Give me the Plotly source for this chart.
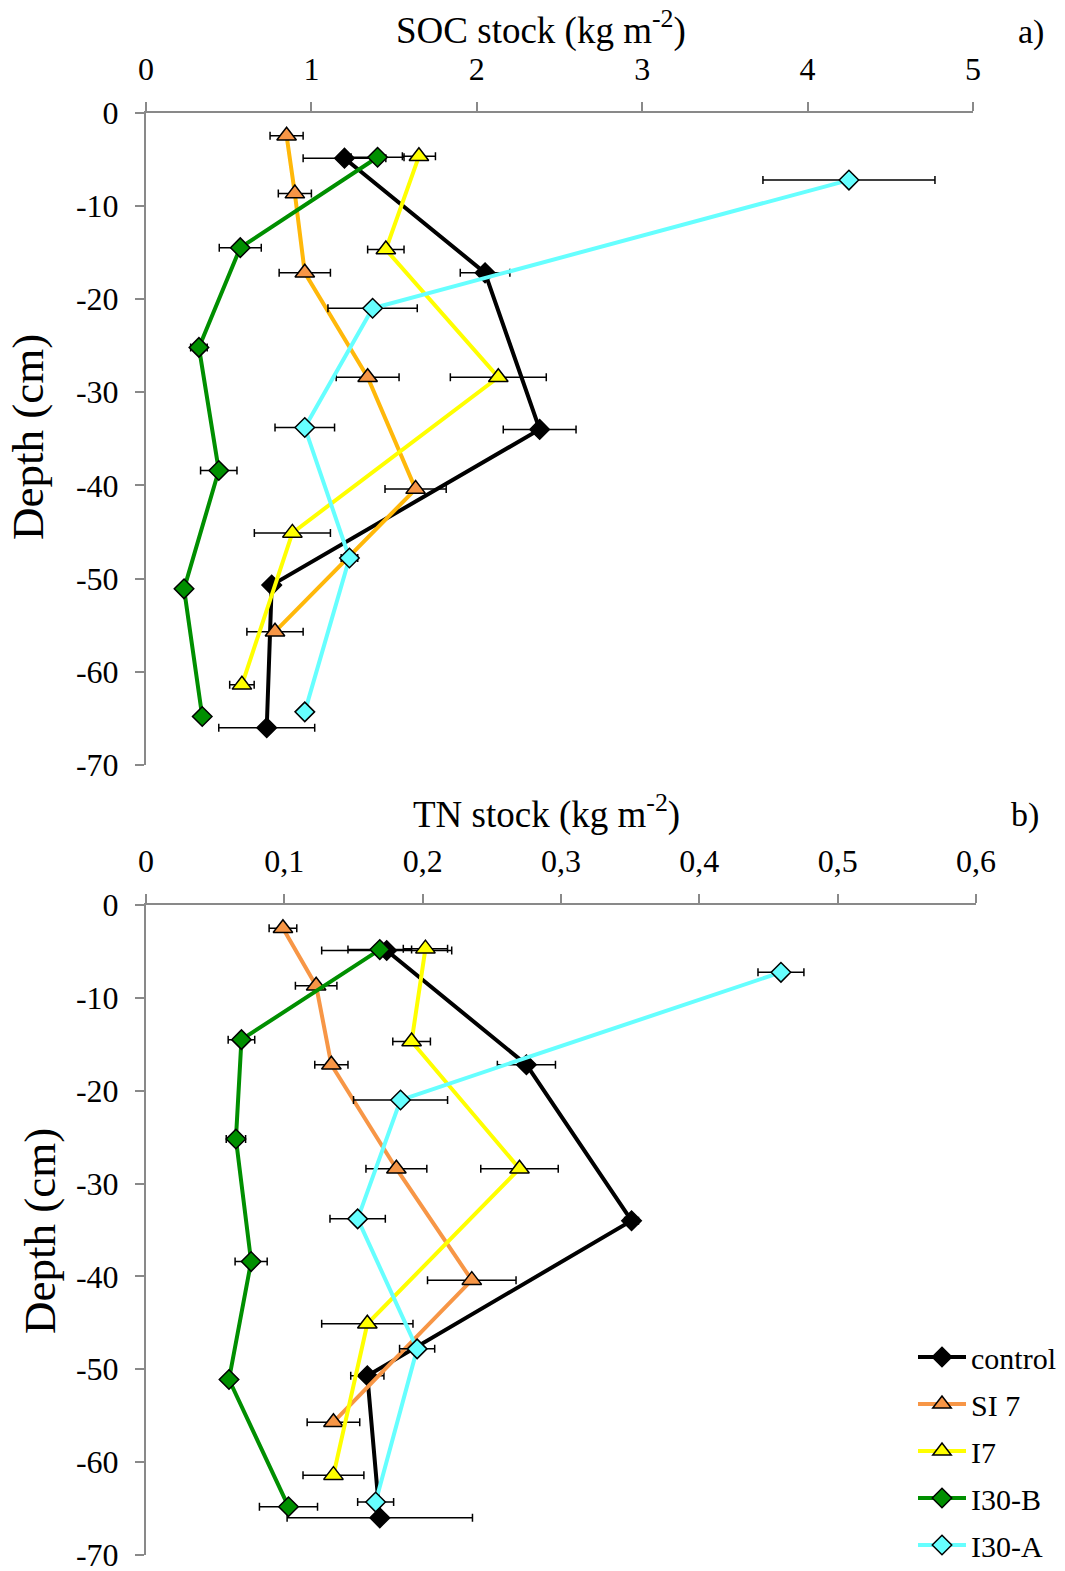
import plotly.graph_objects as go

# ---------------- data ----------------
series_names = ["control", "SI 7", "I7", "I30-B", "I30-A"]

depth_control = [-4.9, -17.2, -34.0, -50.7, -66.0]
depth_si7 = [-2.5, -8.7, -17.2, -28.4, -40.4, -55.7]
depth_i7 = [-4.7, -14.7, -28.4, -45.1, -61.4]
depth_i30b = [-4.8, -14.5, -25.2, -38.4, -51.1, -64.8]
depth_i30a = [-7.25, -21.0, -33.8, -47.8, -64.3]

soc_control = [1.20, 2.05, 2.38, 0.76, 0.73]
soc_control_err = [0.25, 0.15, 0.22, 0.03, 0.29]
soc_si7 = [0.85, 0.90, 0.96, 1.34, 1.63, 0.78]
soc_si7_err = [0.10, 0.10, 0.155, 0.19, 0.185, 0.17]
soc_i7 = [1.65, 1.45, 2.13, 0.885, 0.58]
soc_i7_err = [0.10, 0.11, 0.29, 0.23, 0.074]
soc_i30b = [1.40, 0.57, 0.32, 0.44, 0.23, 0.34]
soc_i30b_err = [0.16, 0.127, 0.05, 0.11, 0.0, 0.03]
soc_i30a = [4.25, 1.37, 0.96, 1.23, 0.96]
soc_i30a_err = [0.52, 0.27, 0.18, 0.05, 0.0]

tn_control = [0.174, 0.275, 0.351, 0.160, 0.169]
tn_control_err = [0.047, 0.021, 0.005, 0.012, 0.067]
tn_si7 = [0.099, 0.123, 0.134, 0.181, 0.2355, 0.1355]
tn_si7_err = [0.010, 0.015, 0.012, 0.022, 0.032, 0.019]
tn_i7 = [0.202, 0.192, 0.270, 0.160, 0.1355]
tn_i7_err = [0.016, 0.0136, 0.028, 0.033, 0.022]
tn_i30b = [0.169, 0.069, 0.065, 0.076, 0.060, 0.103]
tn_i30b_err = [0.023, 0.0096, 0.007, 0.0116, 0.0, 0.021]
tn_i30a = [0.459, 0.184, 0.153, 0.196, 0.166]
tn_i30a_err = [0.0166, 0.034, 0.020, 0.0127, 0.013]

depth_ticks = [0, -10, -20, -30, -40, -50, -60, -70]
depth_ticktext = ["0", "-10", "-20", "-30", "-40", "-50", "-60", "-70"]
soc_ticks = [0, 1, 2, 3, 4, 5]
soc_ticktext = ["0", "1", "2", "3", "4", "5"]
tn_ticks = [0, 0.1, 0.2, 0.3, 0.4, 0.5, 0.6]
tn_ticktext = ["0", "0,1", "0,2", "0,3", "0,4", "0,5", "0,6"]

# ---------------- styles ----------------
W, H = 1065, 1571
FONT = "Liberation Serif, Times New Roman, serif"
AX_COL = "#898989"

styles = {
    "control": dict(line="#000000", line_b="#000000", marker="#000000", symbol="diamond", size=15),
    "SI 7": dict(line="#FFB80A", line_b="#F79646", marker="#F79646", symbol="triangle-up", size=17),
    "I7": dict(line="#FFFF00", line_b="#FFFF00", marker="#FFFF00", symbol="triangle-up", size=17),
    "I30-B": dict(line="#008F00", line_b="#008F00", marker="#008F00", symbol="diamond", size=15),
    "I30-A": dict(line="#66FFFF", line_b="#66FFFF", marker="#66FFFF", symbol="diamond", size=15),
}

depths = [depth_control, depth_si7, depth_i7, depth_i30b, depth_i30a]
soc = [soc_control, soc_si7, soc_i7, soc_i30b, soc_i30a]
soc_err = [soc_control_err, soc_si7_err, soc_i7_err, soc_i30b_err, soc_i30a_err]
tn = [tn_control, tn_si7, tn_i7, tn_i30b, tn_i30a]
tn_err = [tn_control_err, tn_si7_err, tn_i7_err, tn_i30b_err, tn_i30a_err]

fig = go.Figure()

for name, d, x, e in zip(series_names, depths, soc, soc_err):
    s = styles[name]
    fig.add_trace(go.Scatter(
        x=x, y=d, mode="lines+markers", name=name, showlegend=False,
        xaxis="x", yaxis="y",
        line=dict(color=s["line"], width=4),
        marker=dict(symbol=s["symbol"], size=s["size"], color=s["marker"],
                    line=dict(color="#000000", width=1.5)),
        error_x=dict(type="data", array=e, visible=True, color="#000000",
                     thickness=1.5, width=4),
    ))

for name, d, x, e in zip(series_names, depths, tn, tn_err):
    s = styles[name]
    fig.add_trace(go.Scatter(
        x=x, y=d, mode="lines+markers", name=name, showlegend=True,
        legendgroup=name,
        xaxis="x2", yaxis="y2",
        line=dict(color=s["line_b"], width=4),
        marker=dict(symbol=s["symbol"], size=s["size"], color=s["marker"],
                    line=dict(color="#000000", width=1.5)),
        error_x=dict(type="data", array=e, visible=True, color="#000000",
                     thickness=1.5, width=4),
    ))

def px_x(p):
    return p / W

def px_y(p):
    return 1 - p / H

xdom1 = [px_x(146), px_x(973)]
ydom1 = [px_y(765), px_y(112.5)]
xdom2 = [px_x(146), px_x(976)]
ydom2 = [px_y(1555), px_y(905)]

tickfont = dict(family=FONT, size=32, color="#000000")

common_axis = dict(showline=True, linecolor=AX_COL, linewidth=2, ticks="outside",
                   tickcolor=AX_COL, tickwidth=2, ticklen=9, showgrid=False,
                   zeroline=False, tickfont=tickfont,
                   automargin=False, ticklabeloverflow="allow")

def ann(text, x, y, size, angle=0):
    return dict(text=text, x=px_x(x), y=px_y(y), xref="paper", yref="paper",
                xanchor="center", yanchor="middle", showarrow=False,
                textangle=angle, font=dict(family=FONT, size=size, color="#000000"))

fig.update_layout(
    template="none",
    width=W, height=H, autosize=False,
    margin=dict(l=0, r=0, t=0, b=0, pad=0),
    paper_bgcolor="white", plot_bgcolor="white",
    font=dict(family=FONT, color="#000000"),
    xaxis=dict(domain=xdom1, range=[0, 5], side="top", anchor="y",
               tickvals=soc_ticks, ticktext=soc_ticktext, ticklabelstandoff=9,
               **common_axis),
    yaxis=dict(domain=ydom1, range=[-70, 0], anchor="x",
               tickvals=depth_ticks, ticktext=depth_ticktext, ticklabelstandoff=10,
               **common_axis),
    xaxis2=dict(domain=xdom2, range=[0, 0.6], side="top", anchor="y2",
                tickvals=tn_ticks, ticktext=tn_ticktext, ticklabelstandoff=9,
                **common_axis),
    yaxis2=dict(domain=ydom2, range=[-70, 0], anchor="x2",
                tickvals=depth_ticks, ticktext=depth_ticktext, ticklabelstandoff=10,
                **common_axis),
    legend=dict(x=px_x(913), y=0, xanchor="left", yanchor="bottom",
                font=dict(family=FONT, size=30, color="#000000"),
                bgcolor="rgba(0,0,0,0)", borderwidth=0, traceorder="grouped",
                tracegroupgap=5, itemwidth=48),
    annotations=[
        ann("SOC stock (kg m<sup>-2</sup>)", 541, 28, 37),
        ann("a)", 1031, 32, 34),
        ann("TN stock (kg m<sup>-2</sup>)", 546, 812, 37),
        ann("b)", 1025, 815, 34),
        ann("Depth (cm)", 28, 437, 45, -90),
        ann("Depth (cm)", 40, 1231, 45, -90),
    ],
)

fig.write_html("out.html")
